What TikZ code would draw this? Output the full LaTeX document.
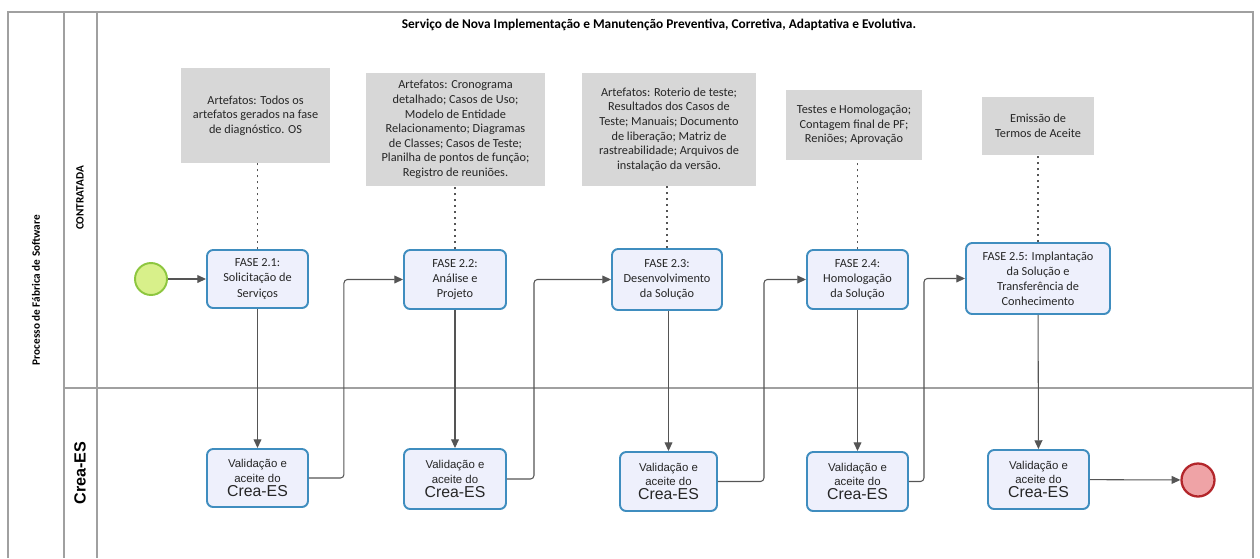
\documentclass[tikz,border=0pt]{standalone}
\usepackage{fontspec}
\setmainfont{Carlito}
\newfontfamily\arialfont{Liberation Sans}
\usetikzlibrary{arrows.meta}

\definecolor{taskfill}{HTML}{EEF0FC}
\definecolor{taskline}{HTML}{3F8DBF}
\definecolor{notefill}{HTML}{D7D7D7}
\definecolor{startfill}{HTML}{D8F08A}
\definecolor{startline}{HTML}{8DC63F}
\definecolor{endfill}{HTML}{EFA3A6}
\definecolor{endline}{HTML}{B3262B}
\definecolor{poolline}{HTML}{A0A0A0}
\definecolor{flowline}{HTML}{555555}

\begin{document}
\begin{tikzpicture}[x=0.02cm,y=-0.02cm,
	box/.style 2 args={minimum width=#1*0.02cm,minimum height=#2*0.02cm},
	task/.style={draw=taskline,line width=1.1pt,fill=taskfill,rounded corners=3.5pt,align=center,inner sep=0pt,text=black!85,font=\fontsize{7}{8.6}\selectfont},
	valid/.style={task,font=\arialfont\fontsize{6.5}{8.2}\selectfont},
	note/.style={fill=notefill,align=center,inner sep=0pt,text=black!85,font=\fontsize{7}{8.3}\selectfont},
	flow/.style={draw=flowline,line width=0.6pt,rounded corners=2pt,-{Triangle[length=5pt,width=4.5pt]}},
	assoc/.style={draw=flowline,line width=1pt,dash pattern=on 1.1pt off 2.3pt},
	lane/.style={draw=poolline,line width=0.6pt}]

	\useasboundingbox (0,0) rectangle (1260,558);

	\draw[lane] (8,558) -- (8,12) -- (1253,12) -- (1253,558);
	\draw[lane] (64,12) -- (64,558);
	\draw[lane] (97,12) -- (97,558);
	\draw[lane] (64,388) -- (1253,388);

	\node[rotate=90,font=\bfseries\fontsize{6.4}{7}\selectfont] (pool) at (36,290) {Processo de Fábrica de Software};
	\node[rotate=90,font=\bfseries\fontsize{6.4}{7}\selectfont] (lanetop) at (80,198) {CONTRATADA};
	\node[rotate=90,font=\arialfont\bfseries\fontsize{9.2}{10}\selectfont] (lanebot) at (80,473) {Crea-ES};
	\node[font=\bfseries\fontsize{7.6}{8}\selectfont] (title) at (659,25) {Serviço de Nova Implementação e Manutenção Preventiva, Corretiva, Adaptativa e Evolutiva.};

	\node[note,box={149}{95}] (a1) at (255.5,115.5) {Artefatos: Todos os\\artefatos gerados na fase\\de diagnóstico. OS};
	\node[note,box={179}{113}] (a2) at (455.5,129.5) {Artefatos: Cronograma\\detalhado; Casos de Uso;\\Modelo de Entidade\\Relacionamento; Diagramas\\de Classes; Casos de Teste;\\Planilha de pontos de função;\\Registro de reuniões.};
	\node[note,box={174}{113}] (a3) at (669,129.5) {Artefatos: Roterio de teste;\\Resultados dos Casos de\\Teste; Manuais; Documento\\de liberação; Matriz de\\rastreabilidade; Arquivos de\\instalação da versão.};
	\node[note,box={136}{70}] (a4) at (854,125) {Testes e Homologação;\\Contagem final de PF;\\Reniões; Aprovação};
	\node[note,box={112}{58}] (a5) at (1038,126) {Emissão de\\Termos de Aceite};

	\node[task,box={101}{58}] (t1) at (257.5,279) {FASE 2.1:\\Solicitação de\\Serviços};
	\node[task,box={102}{59}] (t2) at (455,279.5) {FASE 2.2:\\Análise e\\Projeto};
	\node[task,box={110}{61}] (t3) at (667,279.5) {FASE 2.3:\\Desenvolvimento\\da Solução};
	\node[task,box={101}{59}] (t4) at (857.5,279.5) {FASE 2.4:\\Homologação\\da Solução};
	\node[task,box={144}{71}] (t5) at (1038,278.5) {FASE 2.5: Implantação\\da Solução e\\Transferência de\\Conhecimento};

	\node[valid,box={101}{58}] (v1) at (257.5,478) {Validação e\\aceite do\\{\fontsize{9}{10}\selectfont Crea-ES}};
	\node[valid,box={102}{60}] (v2) at (455,479) {Validação e\\aceite do\\{\fontsize{9}{10}\selectfont Crea-ES}};
	\node[valid,box={97}{59}] (v3) at (668.5,481.5) {Validação e\\aceite do\\{\fontsize{9}{10}\selectfont Crea-ES}};
	\node[valid,box={101}{59}] (v4) at (857.5,481.5) {Validação e\\aceite do\\{\fontsize{9}{10}\selectfont Crea-ES}};
	\node[valid,box={101}{59}] (v5) at (1038.5,479.5) {Validação e\\aceite do\\{\fontsize{9}{10}\selectfont Crea-ES}};

	\node[circle,draw=startline,fill=startfill,line width=1.1pt,minimum size=0.64cm,inner sep=0pt] (start) at (151,279) {};
	\node[circle,draw=endline,fill=endfill,line width=1.3pt,minimum size=0.66cm,inner sep=0pt] (stop) at (1198,480) {};

	\draw[assoc] (t1.north) -- (t1.north |- a1.south);
	\draw[assoc] (t2.north) -- (t2.north |- a2.south);
	\draw[assoc] (t3.north) -- (t3.north |- a3.south);
	\draw[assoc] (t4.north) -- (t4.north |- a4.south);
	\draw[assoc] (t5.north) -- (t5.north |- a5.south);

	\draw[flow] (start) -- (t1);
	\draw[flow] (t1) -- (v1);
	\draw[flow] (v1.east) -- ++(35,0) |- (t2.west);
	\draw[flow] (t2) -- (v2);
	\draw[flow] (v2.east) -- ++(27,0) |- (t3.west);
	\draw[flow] (t3.south -| v3.north) -- (v3);
	\draw[flow] (v3.east) -- ++(46,0) |- (t4.west);
	\draw[flow] (t4) -- (v4);
	\draw[flow] (v4.east) -- ++(15,0) |- (t5.west);
	\draw[flow] (t5) -- (v5);
	\draw[flow] (v5) -- (stop);
\end{tikzpicture}
\end{document}
